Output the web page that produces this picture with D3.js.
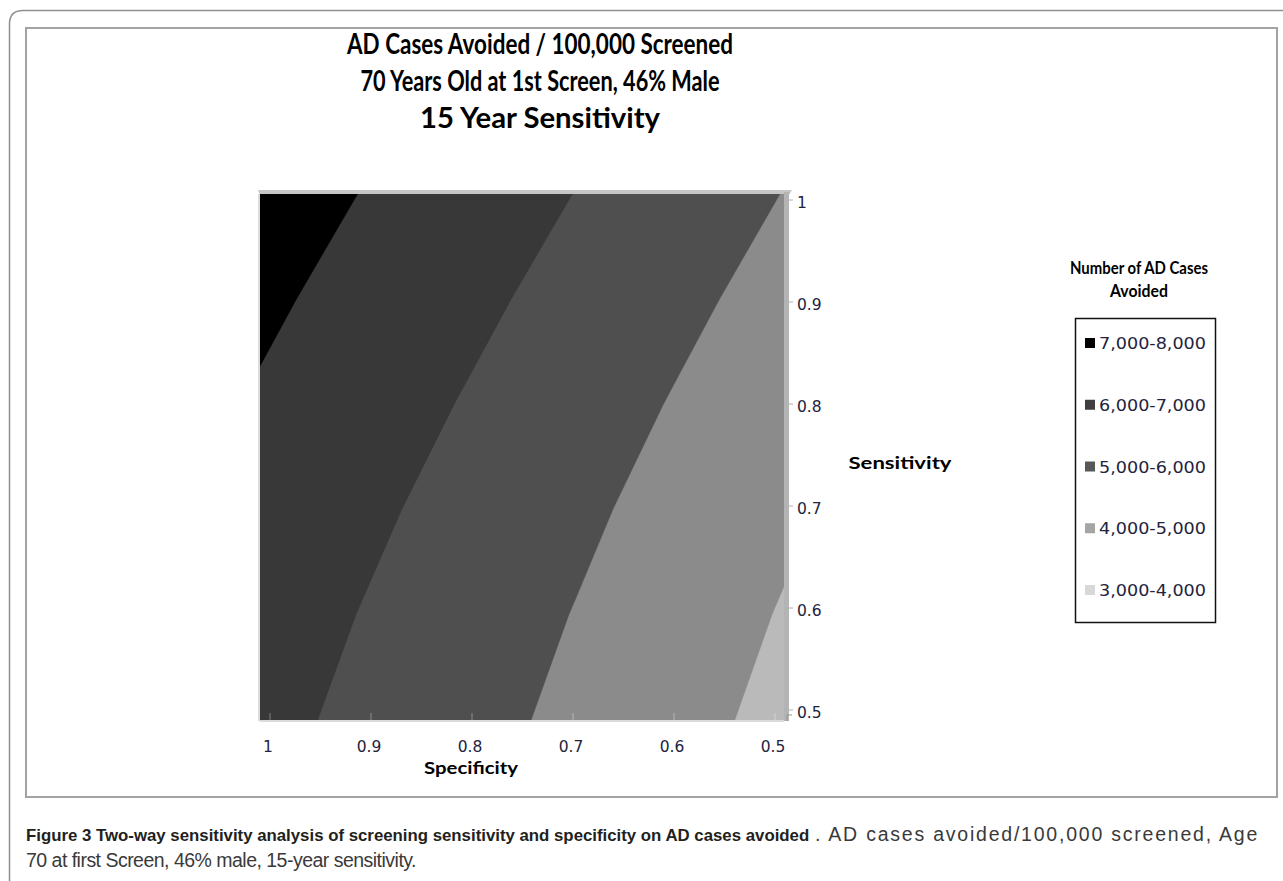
<!DOCTYPE html>
<html><head><meta charset="utf-8">
<script src="https://cdn.jsdelivr.net/npm/d3@7/dist/d3.min.js"></script>
<style>body{margin:0;background:#fff}svg{display:block}</style>
</head><body>
<svg id="c" width="1283" height="881"></svg>
<script>
// ---- data ----
const specificity = [1, 0.9, 0.8, 0.7, 0.6, 0.5];          // columns (left → right)
const sensitivity = [1, 0.9, 0.8, 0.7, 0.6, 0.5];          // rows (top → bottom)
const casesAvoided = [                                      // AD cases avoided / 100,000
  [7454, 6966, 6478, 5990, 5485, 4980],
  [7169, 6681, 6194, 5703, 5195, 4686],
  [6903, 6415, 5927, 5433, 4922, 4411],
  [6659, 6171, 5684, 5188, 4674, 4160],
  [6446, 5958, 5471, 4973, 4457, 3940],
  [6268, 5780, 5293, 4793, 4275, 3756]
];
const bandThresholds = [3000, 4000, 5000, 6000, 7000];
const legendLabels = ["7,000-8,000", "6,000-7,000", "5,000-6,000", "4,000-5,000", "3,000-4,000"];
const xTickValues = [1, 0.9, 0.8, 0.7, 0.6, 0.5];
const yTickValues = [1, 0.9, 0.8, 0.7, 0.6, 0.5];
const titleLines = ["AD Cases Avoided / 100,000 Screened", "70 Years Old at 1st Screen, 46% Male", "15 Year Sensitivity"];
const legendTitle = ["Number of AD Cases", "Avoided"];
const captionBold = "Figure 3 Two-way sensitivity analysis of screening sensitivity and specificity on AD cases avoided";
const captionRest1 = ". AD cases avoided/100,000 screened, Age";
const captionRest2 = "70 at first Screen, 46% male, 15-year sensitivity.";

// ---- styles ----
const bandColors = {3000: "#bababa", 4000: "#8b8b8b", 5000: "#4f4f4f", 6000: "#383838", 7000: "#000000"};
const legendColors = ["#000000", "#3f3f3f", "#585858", "#a5a5a5", "#d8d8d8"];
const tickColor = "#23233d";
const boldFont = "Lato, 'Open Sans', sans-serif";
const tickFont = "'DejaVu Sans', Verdana, sans-serif";

const svg = d3.select("#c");

// outer frame with rounded top-left corner
svg.append("path")
  .attr("d", "M9.5,881 L9.5,24 Q9.5,10.5 23,10.5 L1283,10.5")
  .attr("fill", "none").attr("stroke", "#8f8f8f").attr("stroke-width", 1.5);
// inner chart box
svg.append("rect").attr("x", 26).attr("y", 28).attr("width", 1251).attr("height", 769)
  .attr("fill", "#fff").attr("stroke", "#a3a3a3").attr("stroke-width", 2);

// title
const titleY = [54, 91, 128];
const titleW = [386, 359, 240];
titleLines.forEach((t, i) => {
  svg.append("text").attr("x", 540).attr("y", titleY[i]).attr("text-anchor", "middle")
    .attr("font-family", boldFont).attr("font-weight", 700).attr("font-size", 29)
    .attr("fill", "#000").attr("textLength", titleW[i]).attr("lengthAdjust", "spacingAndGlyphs")
    .text(t);
});

// scales
const x = d3.scaleLinear().domain([1, 0.5]).range([260, 784]);
const y = d3.scaleLinear().domain([1, 0.5]).range([194, 720]);
const xLabel = d3.scaleLinear().domain([1, 0.5]).range([268, 773]);
const yLabel = d3.scaleLinear().domain([1, 0.5]).range([203, 713]);
const nx = specificity.length, ny = sensitivity.length;
// contour grid coordinates (cell centres at i+0.5) → data → pixels
const gx = d3.scaleLinear().domain([0.5, nx - 0.5]).range([x(specificity[0]), x(specificity[nx - 1])]);
const gy = d3.scaleLinear().domain([0.5, ny - 0.5]).range([y(sensitivity[0]), y(sensitivity[ny - 1])]);

// 3D wall / floor edges
svg.append("polygon").attr("points", `${x(1)-2},190 ${x(0.5)+8},190 ${x(0.5)+5},195 ${x(1)},195`)
  .attr("fill", "#c6c6c6");
svg.append("rect").attr("x", x(0.5)).attr("y", 192).attr("width", 5).attr("height", y(0.5) - 192 + 1)
  .attr("fill", "#b4b4b4");
svg.append("line").attr("x1", x(1) - 1).attr("x2", x(1) - 1).attr("y1", 194).attr("y2", y(0.5) + 1)
  .attr("stroke", "#d0d0d0").attr("stroke-width", 1.5);
svg.append("line").attr("x1", x(1)).attr("x2", x(0.5)).attr("y1", y(0.5) + 1).attr("y2", y(0.5) + 1)
  .attr("stroke", "#cfcfcf").attr("stroke-width", 1.5);

// contour surface
const defs = svg.append("defs");
defs.append("clipPath").attr("id", "plotclip").append("rect")
  .attr("x", x(1)).attr("y", y(1)).attr("width", x(0.5) - x(1)).attr("height", y(0.5) - y(1));
const contours = d3.contours().size([nx, ny]).thresholds(bandThresholds)(casesAvoided.flat());
const proj = d3.geoTransform({point: function(px, py) { this.stream.point(gx(px), gy(py)); }});
const path = d3.geoPath(proj);
svg.append("g").attr("clip-path", "url(#plotclip)")
  .selectAll("path").data(contours).join("path")
  .attr("d", path).attr("fill", d => bandColors[d.value])
  .attr("stroke", d => bandColors[d.value]).attr("stroke-width", 0.6);

// bottom tick stubs inside plot
svg.append("g").selectAll("line").data(xTickValues).join("line")
  .attr("x1", d => xLabel(d) + 2).attr("x2", d => xLabel(d) + 2)
  .attr("y1", y(0.5) - 7).attr("y2", y(0.5))
  .attr("stroke", "#ffffff").attr("stroke-opacity", 0.3).attr("stroke-width", 1.2);

// x tick labels
svg.append("g").selectAll("text").data(xTickValues).join("text")
  .attr("x", d => xLabel(d)).attr("y", 752).attr("text-anchor", "middle")
  .attr("font-family", tickFont).attr("font-size", 15.5).attr("fill", tickColor)
  .text(d => d3.format("")(d));
// x axis title
svg.append("text").attr("x", 471).attr("y", 774).attr("text-anchor", "middle")
  .attr("font-family", boldFont).attr("font-weight", 700).attr("font-size", 17)
  .attr("textLength", 94).attr("lengthAdjust", "spacingAndGlyphs").text("Specificity");

// right axis ticks
const yTickG = svg.append("g");
yTickG.selectAll("line").data(yTickValues).join("line")
  .attr("x1", x(0.5) + 4).attr("x2", x(0.5) + 9)
  .attr("y1", d => yLabel(d) - 3).attr("y2", d => yLabel(d) - 3)
  .attr("stroke", "#b0b0b0").attr("stroke-width", 1);
yTickG.append("path").attr("d", `M${x(0.5) + 3},${y(0.5) + 1} L${x(0.5) + 3},${y(0.5) - 5} L${x(0.5) + 8},${y(0.5) - 5}`)
  .attr("fill", "none").attr("stroke", "#9a9a9a").attr("stroke-width", 1.2);
yTickG.selectAll("text").data(yTickValues).join("text")
  .attr("x", 797).attr("y", d => yLabel(d) + 5)
  .attr("font-family", tickFont).attr("font-size", 15.5).attr("fill", tickColor)
  .text(d => d3.format("")(d));
// y axis title
svg.append("text").attr("x", 900).attr("y", 469).attr("text-anchor", "middle")
  .attr("font-family", boldFont).attr("font-weight", 700).attr("font-size", 17)
  .attr("textLength", 103).attr("lengthAdjust", "spacingAndGlyphs").text("Sensitivity");

// legend
const legTitleW = [138, 58];
legendTitle.forEach((t, i) => {
  svg.append("text").attr("x", 1139).attr("y", 274 + i * 23).attr("text-anchor", "middle")
    .attr("font-family", boldFont).attr("font-weight", 700).attr("font-size", 16.5)
    .attr("textLength", legTitleW[i]).attr("lengthAdjust", "spacingAndGlyphs").text(t);
});
svg.append("rect").attr("x", 1075.5).attr("y", 318.5).attr("width", 140).attr("height", 304)
  .attr("fill", "#fff").attr("stroke", "#111").attr("stroke-width", 1.5);
const legY = d3.scalePoint().domain(legendLabels).range([343, 590]);
const legItems = svg.append("g").selectAll("g").data(legendLabels).join("g")
  .attr("transform", d => `translate(0,${legY(d)})`);
legItems.append("rect").attr("x", 1085).attr("y", -5).attr("width", 10).attr("height", 10)
  .attr("fill", (d, i) => legendColors[i]);
legItems.append("text").attr("x", 1099).attr("y", 6)
  .attr("font-family", tickFont).attr("font-size", 16).attr("fill", tickColor)
  .attr("textLength", 107).attr("lengthAdjust", "spacingAndGlyphs").text(d => d);

// caption: fit widths with font size / letter spacing (no glyph stretching)
const capFont = "'Liberation Sans', Arial, sans-serif";
function fitSize(sel, target) {
  const n = sel.node().getComputedTextLength();
  const fs = +sel.attr("font-size");
  sel.attr("font-size", (fs * target / n).toFixed(2));
}
function fitSpacing(sel, target, text) {
  const n = sel.node().getComputedTextLength();
  sel.style("letter-spacing", ((target - n) / text.length).toFixed(3) + "px");
}
const capB = svg.append("text").attr("x", 26).attr("y", 841)
  .attr("font-family", capFont).attr("font-size", 18).attr("font-weight", 700)
  .attr("fill", "#231f20").text(captionBold);
fitSize(capB, 784);
const capR = svg.append("text").attr("x", 815).attr("y", 841)
  .attr("font-family", capFont).attr("font-size", 19.5).attr("fill", "#3a3a3a").text(captionRest1);
fitSpacing(capR, 444, captionRest1);
const cap2 = svg.append("text").attr("x", 26).attr("y", 867)
  .attr("font-family", capFont).attr("font-size", 19.5).attr("fill", "#3a3a3a").text(captionRest2);
fitSpacing(cap2, 390, captionRest2);
</script>
</body></html>
